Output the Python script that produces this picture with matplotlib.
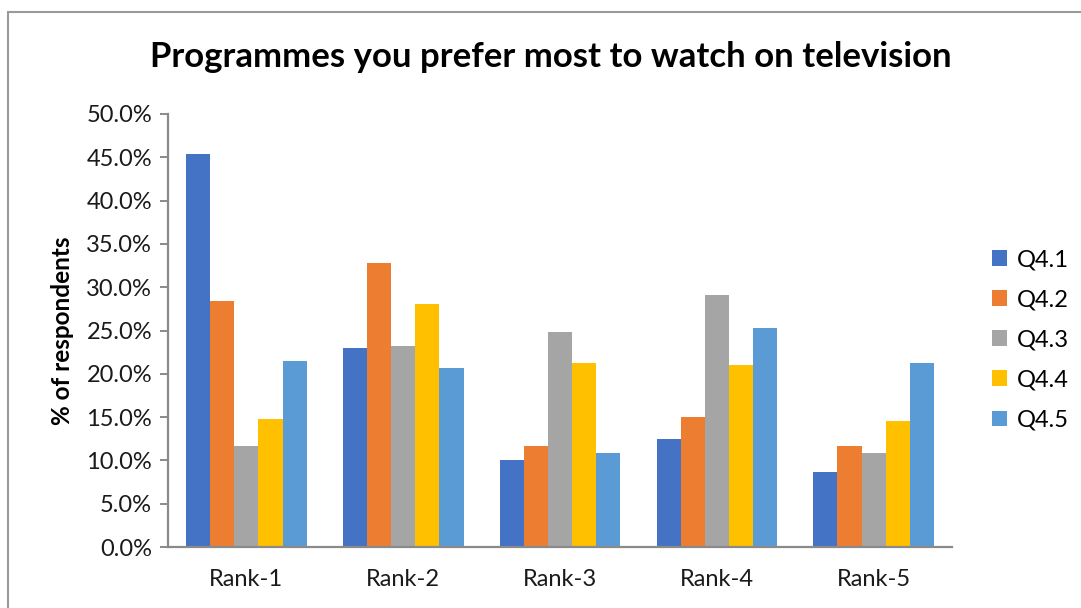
import numpy as np
import matplotlib
matplotlib.use("Agg")
import matplotlib.pyplot as plt
from matplotlib.patches import Rectangle
from matplotlib.ticker import PercentFormatter

# survey results, % of respondents per rank
ranks = ["Rank-1", "Rank-2", "Rank-3", "Rank-4", "Rank-5"]
questions = ["Q4.1", "Q4.2", "Q4.3", "Q4.4", "Q4.5"]
q41 = [45.4, 23.0, 10.0, 12.5, 8.7]
q42 = [28.4, 32.8, 11.7, 15.0, 11.7]
q43 = [11.7, 23.2, 24.8, 29.1, 10.8]
q44 = [14.8, 28.1, 21.2, 21.0, 14.6]
q45 = [21.5, 20.7, 10.9, 25.3, 21.2]
series = [q41, q42, q43, q44, q45]
colors = ["#4472C4", "#ED7D31", "#A5A5A5", "#FFC000", "#5B9BD5"]

plt.rcParams['font.family'] = ['Lato', 'DejaVu Sans']

fig = plt.figure(figsize=(10.81, 6.08), dpi=100)
ax = fig.add_axes([0.1554, 0.1003, 0.7253, 0.7122])

x = np.arange(len(ranks))
w = 1 / 6.5
for i, (vals, c, q) in enumerate(zip(series, colors, questions)):
    ax.bar(x + (i - 2) * w, vals, width=w, color=c, label=q, zorder=2)

ax.set_xlim(-0.5, len(ranks) - 0.5)
ax.set_ylim(0, 50)
ax.set_yticks(np.arange(0, 50.1, 5))
ax.yaxis.set_major_formatter(PercentFormatter(decimals=1))
ax.set_xticks(x)
ax.set_xticklabels(ranks)

for s in ["top", "right"]:
    ax.spines[s].set_visible(False)
for s in ["left", "bottom"]:
    ax.spines[s].set_color("#8a8a8a")
    ax.spines[s].set_linewidth(1.6)
ax.tick_params(axis="y", length=6, width=1.4, color="#8a8a8a", pad=5.5,
               labelsize=17, labelcolor="#1a1a1a")
ax.tick_params(axis="x", length=0, pad=16, labelsize=17, labelcolor="#1a1a1a")

ax.set_ylabel("% of respondents", fontsize=17.5, fontweight="bold", labelpad=9)
fig.text(0.51, 0.906, "Programmes you prefer most to watch on television",
         ha="center", va="center", fontsize=25, fontweight="bold")

leg = ax.legend(loc="center left", bbox_to_anchor=(1.051, 0.478), frameon=False,
                fontsize=17, handlelength=0.65, handleheight=0.65,
                handletextpad=0.42, labelspacing=0.81,
                borderpad=0, borderaxespad=0)

# chart frame
fig.patches.append(Rectangle((8 / 1081, -0.05), 1.1, (608 - 12) / 608 + 0.05,
                             transform=fig.transFigure, fill=False,
                             edgecolor="#9a9a9a", linewidth=1.5))

fig.savefig("out.png", dpi=100)
